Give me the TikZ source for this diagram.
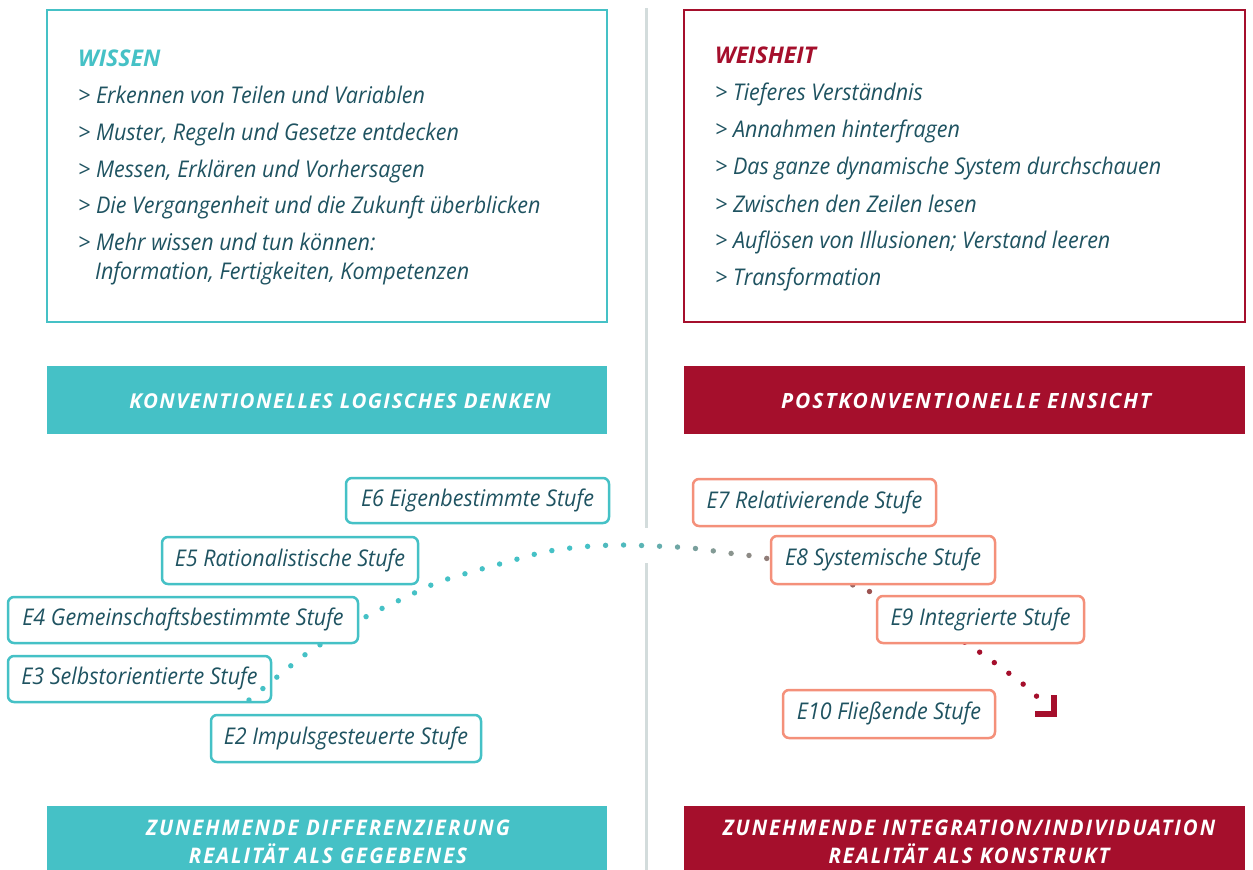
\documentclass[tikz,border=0pt]{standalone}
\usepackage{fontspec}
\setmainfont{Open Sans}
\newfontfamily\stagefont{Open Sans}[FakeStretch=0.935]
\newfontfamily\barfont{Open Sans}[LetterSpace=7]
\newfontfamily\widebarfont{Open Sans}[LetterSpace=9]
\newfontfamily\footfont{Open Sans}[LetterSpace=9,FakeStretch=0.95]
\usetikzlibrary{arrows.meta}

\definecolor{cteal}{HTML}{45C1C6}
\definecolor{cred}{HTML}{A50F2C}
\definecolor{csalmon}{HTML}{F4907A}
\definecolor{ctext}{HTML}{1F5361}
\definecolor{cline}{HTML}{D3DCDC}
\definecolor{cgray}{HTML}{8A948E}
\definecolor{cbrown}{HTML}{9B5250}

\tikzset{
  x=1pt, y=-1pt,
  framebox/.style={line width=2.5pt},
  itemtext/.style={anchor=base west, inner sep=0pt, text=ctext,
    font=\stagefont\itshape\fontsize{23}{27}\selectfont},
  headtext/.style={anchor=base west, inner sep=0pt,
    font=\bfseries\itshape\fontsize{23}{27}\selectfont},
  bartext/.style={text=white, align=center, inner sep=0pt,
    font=\barfont\bfseries\itshape\fontsize{20.5}{28}\selectfont},
  widebartext/.style={bartext,
    font=\widebarfont\bfseries\itshape\fontsize{21}{28}\selectfont},
  foottext/.style={text=white, align=center, inner sep=0pt,
    font=\footfont\bfseries\itshape\fontsize{21.5}{28.5}\selectfont},
  stagebox/.style={rounded corners=6pt, line width=2.5pt, fill=white,
    inner sep=0pt, text=ctext, text height=16pt, text depth=5pt,
    font=\stagefont\itshape\fontsize{23}{27}\selectfont},
  tealstage/.style={stagebox, draw=cteal},
  redstage/.style={stagebox, draw=csalmon},
  dotline/.style={line width=5.4pt, line cap=round, dash pattern=on 0pt off 18pt},
  endmark/.style={draw=cred, line width=6.5pt, line join=miter},
}

\begin{document}
\begin{tikzpicture}
\useasboundingbox (0,0) rectangle (1253,870);
\fill[white] (0,0) rectangle (1253,870);

% centre divider, interrupted where the curve crosses
\draw[cline, line width=3pt] (646,8) -- (646,528);
\draw[cline, line width=3pt] (646,563) -- (646,870);

% knowledge / wisdom frames
\draw[framebox, draw=cteal] (47,10) rectangle (607,322);
\draw[framebox, draw=cred] (684,10) rectangle (1245,322);

\node[headtext, text=cteal] (wissen) at (78,66) {WISSEN};
\node[itemtext] (w1) at (78,103) {> Erkennen von Teilen und Variablen};
\node[itemtext] (w2) at (78,140) {> Muster, Regeln und Gesetze entdecken};
\node[itemtext] (w3) at (78,177) {> Messen, Erklären und Vorhersagen};
\node[itemtext] (w4) at (78,213) {> Die Vergangenheit und die Zukunft überblicken};
\node[itemtext] (w5) at (78,250) {> Mehr wissen und tun können:};
\node[itemtext] (w6) at (95,279) {Information, Fertigkeiten, Kompetenzen};

\node[headtext, text=cred] (weisheit) at (715,63) {WEISHEIT};
\node[itemtext] (v1) at (715,100) {> Tieferes Verständnis};
\node[itemtext] (v2) at (715,137) {> Annahmen hinterfragen};
\node[itemtext] (v3) at (715,174) {> Das ganze dynamische System durchschauen};
\node[itemtext] (v4) at (715,212) {> Zwischen den Zeilen lesen};
\node[itemtext] (v5) at (715,248) {> Auflösen von Illusionen; Verstand leeren};
\node[itemtext] (v6) at (715,285) {> Transformation};

% section bars
\fill[cteal] (47,366) rectangle (607,434);
\node[bartext] (konv) at (340,401) {KONVENTIONELLES LOGISCHES DENKEN};
\fill[cred] (684,366) rectangle (1245,434);
\node[widebartext] (post) at (966,401) {POSTKONVENTIONELLE EINSICHT};

\fill[cteal] (47,806) rectangle (607,870);
\node[foottext] (diff) at (328,842) {ZUNEHMENDE DIFFERENZIERUNG\\REALITÄT ALS GEGEBENES};
\fill[cred] (684,806) rectangle (1245,870);
\node[foottext] (integ) at (969,842) {ZUNEHMENDE INTEGRATION/INDIVIDUATION\\REALITÄT ALS KONSTRUKT};

% lower stages, underneath the curve
\node[tealstage, minimum width=270pt, minimum height=47pt] (e2) at (346,738.5) {E2 Impulsgesteuerte Stufe};
\node[tealstage, minimum width=263pt, minimum height=46pt] (e3) at (139.5,679) {E3 Selbstorientierte Stufe};

% development curve: one dotted path, tinted in vertical strips
\coordinate (c0) at (249,700);
\coordinate (c1) at (277,677);
\coordinate (c2) at (306,654);
\coordinate (c3) at (336,635);
\coordinate (c4) at (369,615);
\coordinate (c5) at (402,599);
\coordinate (c6) at (436,583);
\coordinate (c7) at (471,572);
\coordinate (c8) at (507,562);
\coordinate (c9) at (544,552);
\coordinate (c10) at (580,547);
\coordinate (c11) at (617,545);
\coordinate (c12) at (654,546);
\coordinate (c13) at (691,548);
\coordinate (c14) at (728,553);
\coordinate (c15) at (765,558);
\coordinate (c16) at (810,571);
\coordinate (c17) at (853,585);
\coordinate (c18) at (875,594);
\coordinate (c19) at (925,618);
\coordinate (c20) at (969,645);
\coordinate (c21) at (999,666);
\coordinate (c22) at (1028,688);
\coordinate (c23) at (1041,701);
\coordinate (tip) at (1054,714);
\def\curve{plot[smooth, tension=0.5] coordinates {(c0) (c1) (c2) (c3) (c4) (c5) (c6) (c7) (c8) (c9) (c10) (c11) (c12) (c13) (c14) (c15) (c16) (c17) (c18) (c19) (c20) (c21) (c22) (c23)}}
\foreach \xa/\xb/\col in {0/600/cteal, 600/627/cteal!85!cgray, 627/645/cteal!70!cgray,
    645/663/cteal!55!cgray, 663/682/cteal!40!cgray, 682/700/cteal!25!cgray,
    700/719/cteal!12!cgray, 719/737/cgray, 737/756/cgray!85!cbrown,
    756/800/cgray!65!cbrown, 800/862/cgray!30!cbrown, 862/900/cbrown,
    900/950/cbrown!50!cred, 950/1253/cred}{
  \begin{scope}
    \clip (\xa,440) rectangle (\xb,800);
    \draw[dotline, \col] \curve;
  \end{scope}
}
% right-angled end mark of the curve
\draw[endmark] ([shift={(-19,0)}]tip) -- (tip) -- ([shift={(0,-19)}]tip);

% remaining stages
\node[tealstage, minimum width=350pt, minimum height=46pt] (e4) at (183,620) {E4 Gemeinschaftsbestimmte Stufe};
\node[tealstage, minimum width=256pt, minimum height=47pt] (e5) at (290,560.5) {E5 Rationalistische Stufe};
\node[tealstage, minimum width=263pt, minimum height=45pt] (e6) at (477.5,500.5) {E6 Eigenbestimmte Stufe};
\node[redstage, minimum width=243pt, minimum height=47pt] (e7) at (814.5,502.5) {E7 Relativierende Stufe};
\node[redstage, minimum width=224pt, minimum height=48pt] (e8) at (883,560) {E8 Systemische Stufe};
\node[redstage, minimum width=207pt, minimum height=47pt] (e9) at (980.5,619.5) {E9 Integrierte Stufe};
\node[redstage, minimum width=212pt, minimum height=48pt] (e10) at (889,714) {E10 Fließende Stufe};
\end{tikzpicture}
\end{document}
